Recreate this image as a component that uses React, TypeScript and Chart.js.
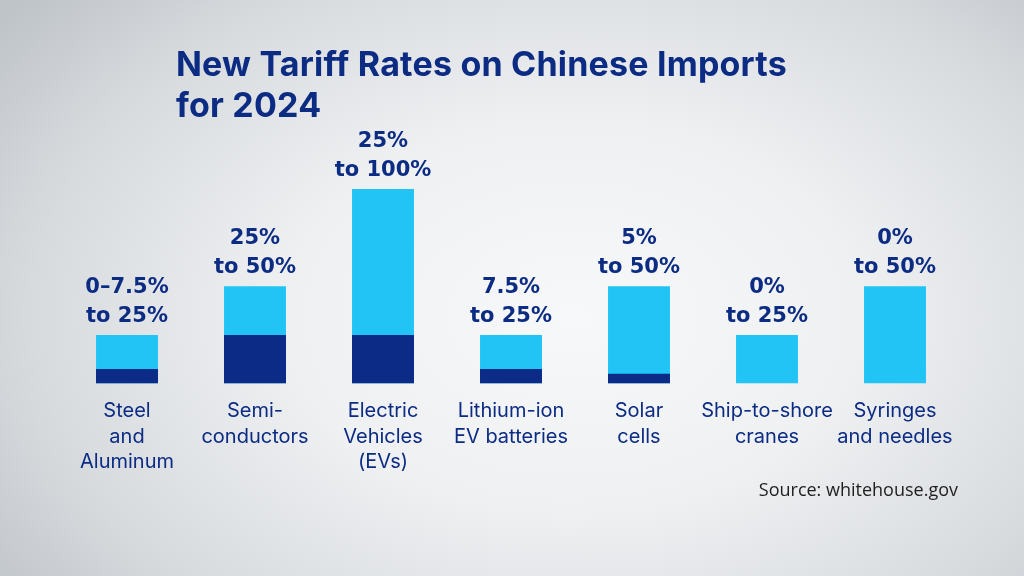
import React, { useEffect, useRef } from "react";
import { Chart, registerables } from "chart.js";

Chart.register(...registerables);

const categories: string[][] = [
  ["Steel", "and", "Aluminum"],
  ["Semi-", "conductors"],
  ["Electric", "Vehicles", "(EVs)"],
  ["Lithium-ion", "EV batteries"],
  ["Solar", "cells"],
  ["Ship-to-shore", "cranes"],
  ["Syringes", "and needles"],
];
const previousRates = [7.5, 25, 25, 7.5, 5, 0, 0];
const newRates = [25, 50, 100, 25, 50, 25, 50];
const rateLabels: string[][] = [
  ["0–7.5%", "to 25%"],
  ["25%", "to 50%"],
  ["25%", "to 100%"],
  ["7.5%", "to 25%"],
  ["5%", "to 50%"],
  ["0%", "to 25%"],
  ["0%", "to 50%"],
];
const titleLines = ["New Tariff Rates on Chinese Imports", "for 2024"];
const sourceText = "Source: whitehouse.gov";

const NAVY = "#0b2b86";
const LIGHT = "#22c4f5";
const TEXT_NAVY = "#0c2c84";

const rateLabelPlugin = {
  id: "rateLabels",
  afterDatasetsDraw(chart: any) {
    const ctx = chart.ctx;
    const meta = chart.getDatasetMeta(1);
    ctx.save();
    ctx.font = "bold 21px 'DejaVu Sans'";
    ctx.fillStyle = TEXT_NAVY;
    ctx.textAlign = "center";
    ctx.textBaseline = "alphabetic";
    meta.data.forEach((el: any, i: number) => {
      const lines = rateLabels[i];
      const base = el.y - 13;
      for (let k = 0; k < lines.length; k++) {
        const y = base - (lines.length - 1 - k) * 29;
        ctx.fillText(lines[k], el.x, y);
      }
    });
    ctx.restore();
  },
};

export default function App() {
  const canvasRef = useRef<HTMLCanvasElement | null>(null);

  useEffect(() => {
    if (!canvasRef.current) return;
    const chart = new Chart(canvasRef.current, {
      type: "bar",
      data: {
        labels: categories,
        datasets: [
          {
            label: "Previous rate",
            data: previousRates,
            backgroundColor: NAVY,
            grouped: false,
            order: 0,
            barPercentage: 0.484,
            categoryPercentage: 1,
          } as any,
          {
            label: "New rate",
            data: newRates,
            backgroundColor: LIGHT,
            grouped: false,
            order: 1,
            barPercentage: 0.484,
            categoryPercentage: 1,
          } as any,
        ],
      },
      options: {
        responsive: false,
        animation: false,
        layout: { padding: { left: 63, right: 65, top: 189, bottom: 86 } },
        plugins: {
          legend: { display: false },
          tooltip: { enabled: false },
        },
        scales: {
          x: {
            grid: { display: false, drawTicks: false },
            border: { display: false },
            ticks: {
              color: TEXT_NAVY,
              font: { family: "Inter", size: 20, lineHeight: 1.275 },
              padding: 15,
              maxRotation: 0,
              minRotation: 0,
              autoSkip: false,
            },
          },
          y: {
            display: false,
            min: 0,
            max: 100,
          },
        },
      },
      plugins: [rateLabelPlugin],
    });
    return () => chart.destroy();
  }, []);

  return (
    <div
      style={{
        position: "absolute",
        left: 0,
        top: 0,
        width: 1024,
        height: 576,
        overflow: "hidden",
        background:
          "radial-gradient(ellipse 70% 85% at 56% 55%, #f7f8f9 0%, #eef0f2 40%, #d8dbde 75%, #bfc4c9 100%)",
      }}
    >
      <canvas
        ref={canvasRef}
        width={1024}
        height={576}
        style={{ position: "absolute", left: 0, top: 0, display: "block" }}
      />
      <div
        style={{
          position: "absolute",
          left: 176,
          top: 43,
          fontFamily: "Inter, sans-serif",
          fontWeight: 700,
          fontSize: 34,
          lineHeight: "41px",
          letterSpacing: "0.2px",
          color: TEXT_NAVY,
          whiteSpace: "nowrap",
        }}
      >
        {titleLines.map((t) => (
          <div key={t}>{t}</div>
        ))}
      </div>
      <div
        style={{
          position: "absolute",
          right: 66,
          top: 477,
          fontFamily: "'Open Sans', sans-serif",
          fontSize: 18,
          lineHeight: "24px",
          color: "#1e1e1e",
          whiteSpace: "nowrap",
        }}
      >
        {sourceText}
      </div>
    </div>
  );
}
